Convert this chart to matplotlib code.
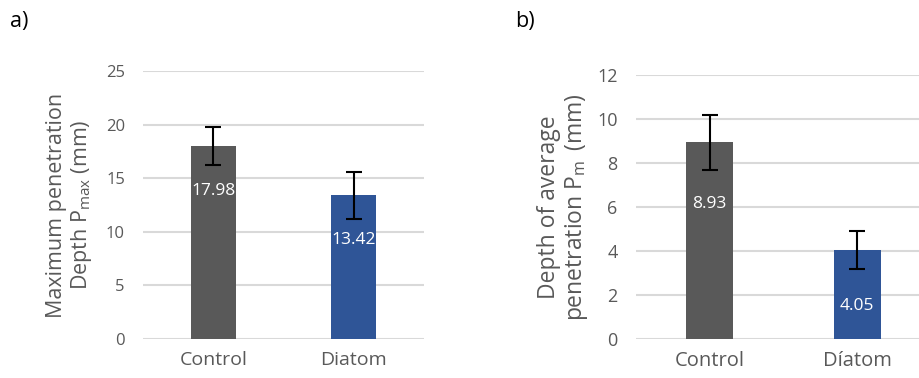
import matplotlib
matplotlib.use("Agg")
import matplotlib.pyplot as plt

plt.rcParams['font.family'] = ['Open Sans', 'DejaVu Sans']
plt.rcParams['mathtext.fontset'] = 'custom'
plt.rcParams['mathtext.rm'] = 'Open Sans'
plt.rcParams['mathtext.it'] = 'Open Sans'

# Panel a: maximum penetration depth
cats_a = ["Control", "Diatom"]
pmax = [17.98, 13.42]
pmax_err = [1.76, 2.2]

# Panel b: depth of average penetration
cats_b = ["Control", "Díatom"]
pm = [8.93, 4.05]
pm_err = [1.25, 0.86]

colors = ["#595959", "#2F5597"]
grid_c = "#D9D9D9"
text_c = "#595959"

fig = plt.figure(figsize=(9.2, 3.78), dpi=100)
ax_a = fig.add_axes([0.1554, 0.1032, 0.3054, 0.709])
ax_b = fig.add_axes([0.691, 0.1032, 0.3209, 0.6992])


def draw(ax, cats, vals, errs, width, ymax, step, label_offsets, tick_fs, xfs):
    x = list(range(len(cats)))
    ax.bar(x, vals, width=width, color=colors, zorder=2)
    ax.errorbar(x, vals, yerr=errs, fmt='none', ecolor='black',
                elinewidth=1.5, capsize=5.5, capthick=1.5, zorder=3)
    for xi, v, off in zip(x, vals, label_offsets):
        ax.annotate(f"{v:.2f}", (xi, v), xytext=(0, -off),
                    textcoords='offset pixels', ha='center', va='center',
                    color='white', fontsize=12.5, zorder=4)
    ax.set_xlim(-0.5, len(cats) - 0.5)
    ax.set_ylim(0, ymax)
    ticks = list(range(0, ymax + 1, step))
    ax.set_yticks(ticks)
    ax.set_yticklabels([str(t) for t in ticks])
    ax.set_xticks(x)
    ax.set_xticklabels(cats)
    ax.yaxis.grid(True, color=grid_c, linewidth=1.5, zorder=0)
    ax.set_axisbelow(True)
    for s in ax.spines.values():
        s.set_visible(False)
    ax.tick_params(axis='y', length=0, pad=13, labelsize=tick_fs, labelcolor=text_c)
    ax.tick_params(axis='x', length=0, pad=9, labelsize=xfs, labelcolor=text_c)


draw(ax_a, cats_a, pmax, pmax_err, 0.32, 25, 5, [45, 45], 12, 14)
draw(ax_b, cats_b, pm, pm_err, 0.318, 12, 2, [62, 56], 13, 14.5)

ax_a.text(-0.26, 0.5, "Maximum penetration\nDepth P$_{\\mathregular{max}}$ (mm)",
          transform=ax_a.transAxes, rotation=90, ha='center', va='center',
          multialignment='center', fontsize=15.5, color=text_c, linespacing=1.1)
ax_b.text(-0.245, 0.5, "Depth of average\npenetration P$_{\\mathregular{m}}$\u2009 (mm)",
          transform=ax_b.transAxes, rotation=90, ha='center', va='center',
          multialignment='center', fontsize=16.5, color=text_c, linespacing=1.1)

fig.text(10 / 920, 1 - 22 / 378, "a)", fontsize=15.5, ha='left', va='center')
fig.text(515 / 920, 1 - 22 / 378, "b)", fontsize=15.5, ha='left', va='center')

fig.savefig("out.png", dpi=100)
